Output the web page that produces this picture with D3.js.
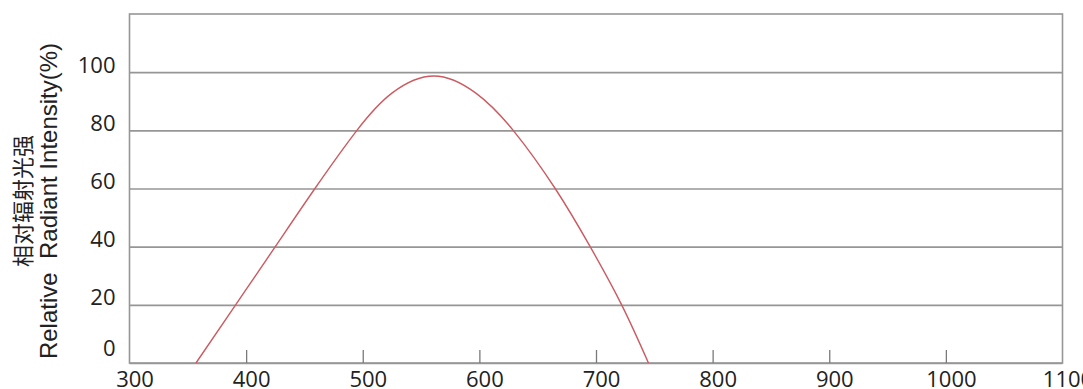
<!DOCTYPE html>
<html>

<head>
    <meta charset="utf-8">
    <style>
        body {
            margin: 0;
            background: #fff;
        }

        svg {
            display: block;
        }

        .grid line {
            stroke: #969696;
            stroke-width: 1.6px;
        }

        .frame {
            fill: none;
            stroke: #969696;
            stroke-width: 1.6px;
        }

        .tick-marks line {
            stroke: #7a7a7a;
            stroke-width: 1.3px;
        }

        .axis .domain,
        .grid .domain,
        .tick-marks .domain {
            display: none;
        }

        .axis .tick text {
            font-family: 'Open Sans', 'Noto Sans', sans-serif;
            font-size: 22px;
            fill: #222;
        }

        .axis-title {
            font-family: 'Liberation Sans', Arial, sans-serif;
            font-size: 24px;
            fill: #222;
            white-space: pre;
        }

        .axis-title-cn {
            font-family: 'Noto Sans CJK SC', sans-serif;
            font-size: 22px;
            fill: #222;
        }
    </style>
</head>

<body>
    <svg width="1083" height="389"></svg>

    <script src="https://d3js.org/d3.v7.min.js"></script>
    <script>

        // values
        let wavelength = [357, 391, 425, 459, 495, 525, 561, 597, 629, 665, 695, 722, 745]
        let intensity = [0, 20, 40, 60, 80, 92.8, 98.7, 92.8, 80, 60, 40, 20, 0]

        let xTickValues = [300, 400, 500, 600, 700, 800, 900, 1000, 1100]
        let yTickValues = [0, 20, 40, 60, 80, 100]

        let titleEn = "Relative  Radiant Intensity(%)"
        let titleCn = "相对辐射光强"

        let margin = { top: 14, right: 20.5, bottom: 26, left: 129.5 }
        let width = 1083
        let height = 389

        let svg = d3.select("svg")

        let x = d3.scaleLinear()
            .domain([300, 1100])
            .range([margin.left, width - margin.right])

        let y = d3.scaleLinear()
            .domain([0, 120])
            .range([height - margin.bottom, margin.top])

        // horizontal grid lines
        svg.append("g")
            .attr("class", "grid")
            .attr("transform", `translate(${margin.left},0)`)
            .call(d3.axisRight(y)
                .tickValues(yTickValues)
                .tickSize(x.range()[1] - x.range()[0])
                .tickFormat(""))

        // frame round the plot
        svg.append("rect")
            .attr("class", "frame")
            .attr("x", x.range()[0])
            .attr("y", y.range()[1])
            .attr("width", x.range()[1] - x.range()[0])
            .attr("height", y.range()[0] - y.range()[1])

        // small ticks pointing up into the plot
        svg.append("g")
            .attr("class", "tick-marks")
            .attr("transform", `translate(0,${y(0)})`)
            .call(d3.axisTop(x)
                .tickValues(xTickValues.slice(1, -1))
                .tickSize(13)
                .tickFormat(""))

        // x labels
        svg.append("g")
            .attr("class", "axis")
            .attr("transform", `translate(0,${y(0)})`)
            .call(d3.axisBottom(x)
                .tickValues(xTickValues)
                .tickSize(0)
                .tickFormat(d3.format("d")))
            .call(g => g.selectAll(".tick text")
                .attr("y", 24)
                .attr("dy", 0)
                .attr("dx", 5))

        // y labels
        svg.append("g")
            .attr("class", "axis")
            .attr("transform", `translate(${margin.left},0)`)
            .call(d3.axisLeft(y)
                .tickValues(yTickValues)
                .tickSize(0)
                .tickPadding(14)
                .tickFormat(d3.format("d")))
            .call(g => g.selectAll(".tick text")
                .attr("dy", d => d == 0 ? -8 : 0))

        // y title, two lines
        let midY = 201

        svg.append("text")
            .attr("class", "axis-title-cn")
            .attr("transform", `translate(31,${midY}) rotate(-90)`)
            .attr("text-anchor", "middle")
            .text(titleCn)

        svg.append("text")
            .attr("class", "axis-title")
            .attr("transform", `translate(57,${midY}) rotate(-90)`)
            .attr("text-anchor", "middle")
            .text(titleEn)

        // the curve
        let points = wavelength.map((w, i) => ({ w: w, v: intensity[i] }))

        let line = d3.line()
            .x(d => x(d.w))
            .y(d => y(d.v))
            .curve(d3.curveNatural)

        svg.append("path")
            .datum(points)
            .attr("fill", "none")
            .attr("stroke", "#cc5a60")
            .attr("stroke-width", 1.4)
            .attr("d", line)

    </script>
</body>

</html>
